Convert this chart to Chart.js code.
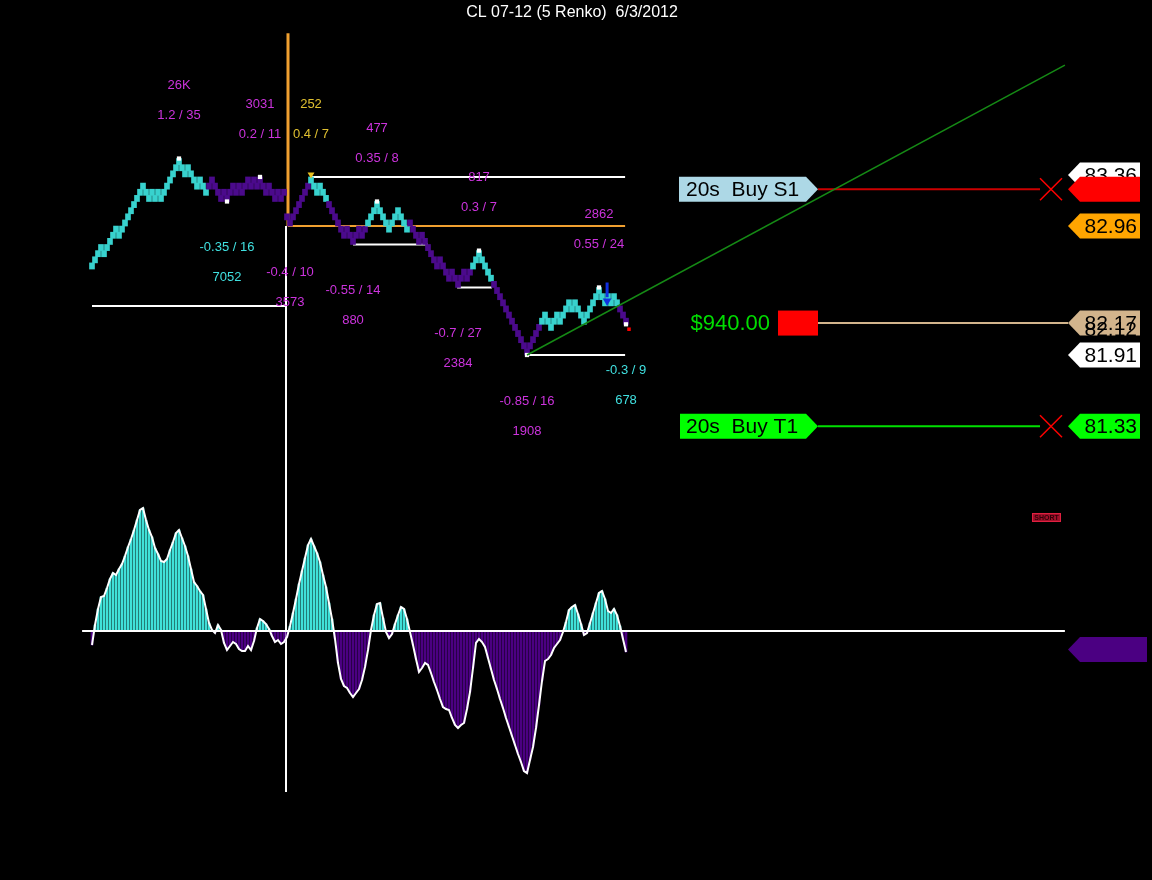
<!DOCTYPE html>
<html>
<head>
<meta charset="utf-8">
<title>CL 07-12 (5 Renko) 6/3/2012</title>
<script src="https://cdn.jsdelivr.net/npm/chart.js@4.4.0/dist/chart.umd.min.js"></script>
<style>
  html, body { margin: 0; padding: 0; background: #000; }
  #wrap { position: relative; width: 1152px; height: 880px; }
</style>
</head>
<body>
<div id="wrap"><canvas id="renkoChart"></canvas></div>
<script>
// ---- data ----
const brickSize = 0.05;

// bottom price of every renko brick (one per column)
const brickLow = [
  82.61,82.66,82.71,82.76,82.71,82.76,82.81,82.86,82.91,82.86,82.91,82.96,83.01,83.06,83.11,
  83.16,83.21,83.26,83.21,83.16,83.21,83.16,83.21,83.16,83.21,83.26,83.31,83.36,83.41,83.46,
  83.41,83.36,83.41,83.36,83.31,83.26,83.31,83.26,83.21,83.26,83.31,83.26,83.21,83.16,83.21,83.16,
  83.21,83.26,83.21,83.26,83.21,83.26,83.31,83.26,83.31,83.26,83.31,
  83.26,83.21,83.26,83.21,83.16,83.21,83.16,83.21,
  83.01,82.96,83.01,83.06,83.11,83.16,83.21,83.26,83.31,
  83.26,83.21,83.26,83.21,83.16,83.11,83.06,83.01,82.96,82.91,82.86,82.91,82.86,82.81,
  82.86,82.91,82.86,82.91,82.96,83.01,83.06,83.11,
  83.06,83.01,82.96,82.91,82.96,83.01,83.06,83.01,82.96,82.91,82.96,82.91,82.86,82.81,
  82.86,82.81,82.76,82.71,82.66,82.61,82.66,82.61,82.56,82.51,82.56,82.51,82.46,
  82.51,82.56,82.51,82.56,82.61,82.66,82.71,
  82.66,82.61,82.56,82.51,82.46,82.41,82.36,82.31,82.26,82.21,82.16,82.11,82.06,82.01,81.96,81.91,
  81.96,82.01,82.06,82.11,82.16,82.21,82.16,82.11,82.16,82.21,82.16,82.21,82.26,82.31,82.26,82.31,
  82.26,82.21,82.16,82.21,82.26,82.31,82.36,82.41,
  82.36,82.31,82.36,82.31,82.36,82.31,82.26,82.21,82.16
];

// trend colour of each brick: 1 = up trend (cyan), 0 = down trend (purple)
const brickTrend = [
  1,1,1,1,1,1,1,1,1,1,1,1,1,1,1,1,1,1,1,1,1,1,1,1,1,1,1,1,1,1,1,1,1,1,1,1,1,1,1,
  0,0,0,0,0,0,0,0,0,0,0,0,0,0,0,0,0,0,0,0,0,0,0,0,0,0,0,0,0,0,0,0,0,0,
  1,1,1,1,1,1,
  0,0,0,0,0,0,0,0,0,0,0,0,0,
  1,1,1,1,1,1,1,1,1,1,1,1,1,1,
  0,0,0,0,0,0,0,0,0,0,0,0,0,0,0,0,0,0,0,0,0,
  1,1,1,1,1,1,1,
  0,0,0,0,0,0,0,0,0,0,0,0,0,0,0,0,
  1,1,1,1,1,1,1,1,1,1,1,1,1,1,1,1,1,1,1,1,1,1,1,1,1,1,
  0,0,0
];

// lower panel oscillator, one value per brick
const oscValues = [
  -14,6,22,34,35,43,52,58,56,62,67,75,84,92,101,111,121,123,111,101,
  94,83,77,70,69,72,81,89,98,101,93,85,75,62,49,45,40,36,22,8,
  1,-2,6,1,-12,-19,-15,-11,-13,-18,-20,-20,-15,-19,-10,3,12,10,7,2,
  -5,-11,-9,-13,-11,-6,5,18,32,47,60,73,86,92,85,78,69,56,44,28,
  12,-8,-32,-48,-55,-57,-62,-66,-62,-58,-49,-36,-19,1,16,27,28,13,-1,-7,
  -3,7,16,24,22,12,-1,-14,-28,-41,-37,-32,-34,-42,-51,-59,-68,-76,-78,-79,
  -87,-94,-97,-94,-92,-78,-61,-37,-12,-8,-11,-16,-27,-38,-49,-58,-68,-77,-87,-96,
  -105,-114,-123,-131,-140,-142,-129,-116,-97,-74,-50,-30,-28,-24,-17,-13,-9,-1,9,21,
  24,26,17,7,-4,-2,8,18,28,38,40,32,20,18,22,16,5,-8,-21
];

// zig-zag swings: brick index, direction, move / bricks text, volume text
const swingBars    = [29, 45, 56, 66, 73, 87, 95, 122, 129, 145, 169, 178];
const swingDir     = [1, -1, 1, -1, 1, -1, 1, -1, 1, -1, 1, -1];
const swingMoves   = ["1.2 / 35", "-0.35 / 16", "0.2 / 11", "-0.4 / 10", "0.4 / 7", "-0.55 / 14",
                      "0.35 / 8", "-0.7 / 27", "0.3 / 7", "-0.85 / 16", "0.55 / 24", "-0.3 / 9"];
const swingVolumes = ["26K", "7052", "3031", "3573", "252", "880", "477", "2384", "817", "1908", "2862", "678"];
const swingTone    = ["m", "c", "m", "m", "g", "m", "m", "m", "m", "m", "m", "c"];

// horizontal level lines (price, from brick, to brick)
const levelPrices = [82.31, 83.36, 82.96, 82.81, 82.46, 81.91];
const levelFrom   = [0, 72.7, 65.3, 87, 121.7, 145];
const levelTo     = [64.7, 177.7, 177.7, 112, 133.3, 177.7];

// trend line
const trendBars   = [145, 324.3];
const trendPrices = [81.91, 84.27];

// session break
const sessionBar = 65;
const sessionOpen = 82.96;
const sessionHigh = 84.53;

// orders / tags
const stopPrice = 83.26;
const targetPrice = 81.33;
const entryPrice = 82.17;
const lastTradePrice = 82.12;
const openProfit = "$940.00";
const tagPrices = [83.36, 83.26, 82.96, 82.17, 81.91, 81.33];
const tagTexts  = ["83.36", "", "82.96", "82.17", "81.91", "81.33"];

// signal arrow
const signalBar = 171.7;
const signalFrom = 82.50;
const signalTo = 82.35;

// ---- styles ----
const CYAN = '#38d2ce';
const PURPLE = '#4b0a8c';
const OSC_CYAN = '#40e0d8';
const OSC_PURPLE = '#4b0082';
const TONE = { m: '#cc33dd', c: '#40e0e0', g: '#e0c030' };
const LEVEL_COLORS = ['#ffffff', '#ffffff', '#f0a030', '#ffffff', '#ffffff', '#ffffff'];
const TAG_FILLS = ['#ffffff', '#ff0000', '#ffa500', '#d2b48c', '#ffffff', '#00ff00'];
const FONT = '"Liberation Sans", Arial, sans-serif';

// canvas is 1152 x 880, bricks 3px apart starting at x=92
const BAR_PX = 3, FIRST_X = 92, W = 1152, H = 880;
const PRICE_PX = 122.8, PRICE_REF = 81.91, PRICE_REF_Y = 355;
const OSC_ZERO_Y = 631;

const brickData = brickLow.map((lo, i) => ({ x: i, y: [lo, +(lo + brickSize).toFixed(2)] }));
const brickColors = brickTrend.map(t => t ? CYAN : PURPLE);
const oscData = oscValues.map((v, i) => ({ x: i, y: v }));
const oscColors = oscValues.map(v => v >= 0 ? OSC_CYAN : OSC_PURPLE);

const topMarks = [], bottomMarks = [], triMarks = [];
swingBars.forEach((b, k) => {
  if (swingTone[k] === 'g') triMarks.push({ x: b, y: brickLow[b] + brickSize + 0.02 });
  else if (swingDir[k] > 0) topMarks.push({ x: b, y: brickLow[b] + brickSize });
  else if (b !== 66 && b !== 87 && b !== 122) bottomMarks.push({ x: b, y: brickLow[b] });
});

function lineSet(points, color, width, axis, order) {
  return { type: 'line', data: points, borderColor: color, borderWidth: width, pointRadius: 0,
           yAxisID: axis, order: order, tension: 0 };
}

const datasets = [
  { type: 'bar', data: brickData, backgroundColor: brickColors, barThickness: 5, grouped: false,
    yAxisID: 'y', order: 3 },
  { type: 'bar', data: oscData, backgroundColor: oscColors, barThickness: 2, grouped: false,
    yAxisID: 'y2', order: 5 },
  lineSet(oscData, '#ffffff', 2, 'y2', 4),
  lineSet([{ x: -3.3, y: 0 }, { x: 324.3, y: 0 }], '#ffffff', 2, 'y2', 4),
  lineSet(trendBars.map((b, i) => ({ x: b, y: trendPrices[i] })), '#158a15', 1.5, 'y', 1),
  { type: 'line', data: topMarks, showLine: false, pointStyle: 'rect', pointRadius: 3,
    pointBackgroundColor: '#ffffff', pointBorderWidth: 0, yAxisID: 'y', order: 1 },
  { type: 'line', data: bottomMarks, showLine: false, pointStyle: 'rect', pointRadius: 3,
    pointBackgroundColor: '#ffffff', pointBorderWidth: 0, yAxisID: 'y', order: 1 },
  { type: 'line', data: triMarks, showLine: false, pointStyle: 'triangle', pointRotation: 180,
    pointRadius: 4, pointBackgroundColor: '#e8c020', pointBorderWidth: 0, yAxisID: 'y', order: 1 },
  lineSet([{ x: signalBar, y: signalFrom }, { x: signalBar, y: signalTo + 0.03 }], '#1030e0', 3, 'y', 0),
  { type: 'line', data: [{ x: signalBar, y: signalTo }], showLine: false, pointStyle: 'triangle',
    pointRotation: 180, pointRadius: 5, pointBackgroundColor: '#1030e0', pointBorderWidth: 0,
    yAxisID: 'y', order: 0 },
  { type: 'line', data: [{ x: 179, y: lastTradePrice }], showLine: false, pointStyle: 'rect',
    pointRadius: 2.5, pointBackgroundColor: '#ff0000', pointBorderWidth: 0, yAxisID: 'y', order: 0 }
];
levelPrices.forEach((p, i) => {
  datasets.push(lineSet([{ x: levelFrom[i], y: p }, { x: levelTo[i], y: p }], LEVEL_COLORS[i], 2, 'y', 6));
});

function pentagonRight(ctx, left, tip, yc, h, fill) {
  ctx.beginPath();
  ctx.moveTo(left, yc - h / 2);
  ctx.lineTo(tip - 12, yc - h / 2);
  ctx.lineTo(tip, yc);
  ctx.lineTo(tip - 12, yc + h / 2);
  ctx.lineTo(left, yc + h / 2);
  ctx.closePath();
  ctx.fillStyle = fill;
  ctx.fill();
}

function pentagonLeft(ctx, tip, right, yc, h, fill) {
  ctx.beginPath();
  ctx.moveTo(tip, yc);
  ctx.lineTo(tip + 12, yc - h / 2);
  ctx.lineTo(right, yc - h / 2);
  ctx.lineTo(right, yc + h / 2);
  ctx.lineTo(tip + 12, yc + h / 2);
  ctx.closePath();
  ctx.fillStyle = fill;
  ctx.fill();
}

function cross(ctx, cx, cy) {
  ctx.strokeStyle = '#ff0000';
  ctx.lineWidth = 1.5;
  ctx.beginPath();
  ctx.moveTo(cx - 11, cy - 11); ctx.lineTo(cx + 11, cy + 11);
  ctx.moveTo(cx - 11, cy + 11); ctx.lineTo(cx + 11, cy - 11);
  ctx.stroke();
}

const overlay = {
  id: 'overlay',
  beforeDatasetsDraw(chart) {
    const { ctx } = chart;
    const { x, y, y2 } = chart.scales;
    ctx.save();

    // session break
    const sx = x.getPixelForValue(sessionBar);
    ctx.strokeStyle = '#ffffff';
    ctx.lineWidth = 2;
    ctx.beginPath();
    ctx.moveTo(sx - 1, y.getPixelForValue(sessionOpen));
    ctx.lineTo(sx - 1, y2.getPixelForValue(-161));
    ctx.stroke();
    ctx.strokeStyle = '#f0a030';
    ctx.lineWidth = 3;
    ctx.beginPath();
    ctx.moveTo(sx + 1, y.getPixelForValue(sessionHigh));
    ctx.lineTo(sx + 1, y.getPixelForValue(sessionOpen));
    ctx.stroke();

    // order lines
    const ys = y.getPixelForValue(stopPrice);
    const yt = y.getPixelForValue(targetPrice);
    const ye = y.getPixelForValue(entryPrice);
    ctx.lineWidth = 2;
    ctx.strokeStyle = '#cc0000';
    ctx.beginPath(); ctx.moveTo(818, ys); ctx.lineTo(1040, ys); ctx.stroke();
    ctx.strokeStyle = '#00e000';
    ctx.beginPath(); ctx.moveTo(818, yt); ctx.lineTo(1040, yt); ctx.stroke();
    ctx.strokeStyle = '#d2b48c';
    ctx.beginPath(); ctx.moveTo(818, ye); ctx.lineTo(1068, ye); ctx.stroke();
    cross(ctx, 1051, ys);
    cross(ctx, 1051, yt);

    // order labels
    ctx.font = '21px ' + FONT;
    ctx.textBaseline = 'middle';
    ctx.textAlign = 'left';
    pentagonRight(ctx, 679, 818, ys, 25, '#add8e6');
    ctx.fillStyle = '#000000';
    ctx.fillText('20s  Buy S1', 686, ys + 1);
    pentagonRight(ctx, 680, 818, yt, 25, '#00ff00');
    ctx.fillStyle = '#000000';
    ctx.fillText('20s  Buy T1', 686, yt + 1);

    ctx.fillStyle = '#ff0000';
    ctx.fillRect(778, ye - 12.5, 40, 25);
    ctx.fillStyle = '#00dd00';
    ctx.textAlign = 'right';
    ctx.font = '22px ' + FONT;
    ctx.fillText(openProfit, 770, ye + 1);
    ctx.restore();
  },
  afterDatasetsDraw(chart) {
    const { ctx } = chart;
    const { x, y, y2 } = chart.scales;
    ctx.save();

    // title
    ctx.fillStyle = '#ffffff';
    ctx.font = '16px ' + FONT;
    ctx.textAlign = 'center';
    ctx.textBaseline = 'middle';
    ctx.fillText('CL 07-12 (5 Renko)  6/3/2012', 572, 13);

    // swing labels
    ctx.font = '13px ' + FONT;
    swingBars.forEach((b, k) => {
      const px = x.getPixelForValue(b);
      ctx.fillStyle = TONE[swingTone[k]];
      if (swingDir[k] > 0) {
        const top = y.getPixelForValue(brickLow[b] + brickSize);
        ctx.fillText(swingVolumes[k], px, top - 73);
        ctx.fillText(swingMoves[k], px, top - 43);
      } else {
        const bot = y.getPixelForValue(brickLow[b]);
        ctx.fillText(swingMoves[k], px, bot + 46);
        ctx.fillText(swingVolumes[k], px, bot + 76);
      }
    });

    // price tags on the right
    ctx.font = '21px ' + FONT;
    ctx.textAlign = 'right';
    tagPrices.forEach((p, i) => {
      const yc = y.getPixelForValue(p) - (i === 0 ? 2 : 0);
      pentagonLeft(ctx, 1068, 1140, yc, 25, TAG_FILLS[i]);
      if (tagTexts[i]) {
        ctx.fillStyle = '#000000';
        ctx.fillText(tagTexts[i], 1137, yc + 1);
      }
      if (p === entryPrice) {
        ctx.fillText(lastTradePrice.toFixed(2), 1137, y.getPixelForValue(lastTradePrice) + 1);
      }
    });

    // oscillator tag
    pentagonLeft(ctx, 1068, 1147, y2.getPixelForValue(oscValues[oscValues.length - 1]) - 2.5, 25, '#4b0082');

    // small SHORT box
    ctx.fillStyle = '#a0102a';
    ctx.fillRect(1032, 513, 29, 9);
    ctx.strokeStyle = '#e02040';
    ctx.lineWidth = 1;
    ctx.strokeRect(1032.5, 513.5, 28, 8);
    ctx.fillStyle = '#300008';
    ctx.font = 'bold 7px ' + FONT;
    ctx.textAlign = 'center';
    ctx.fillText('SHORT', 1046.5, 518);
    ctx.restore();
  }
};

new Chart(document.getElementById('renkoChart'), {
  type: 'bar',
  data: { datasets: datasets },
  options: {
    responsive: true,
    maintainAspectRatio: false,
    animation: false,
    events: [],
    layout: { padding: 0, autoPadding: false },
    plugins: { legend: { display: false }, tooltip: { enabled: false }, title: { display: false } },
    scales: {
      x: { type: 'linear', display: false, offset: false,
           min: -FIRST_X / BAR_PX, max: (W - FIRST_X) / BAR_PX },
      y: { type: 'linear', display: false,
           min: PRICE_REF - (H - PRICE_REF_Y) / PRICE_PX, max: PRICE_REF + PRICE_REF_Y / PRICE_PX },
      y2: { type: 'linear', display: false, min: OSC_ZERO_Y - H, max: OSC_ZERO_Y }
    }
  },
  plugins: [overlay]
});
</script>
</body>
</html>
